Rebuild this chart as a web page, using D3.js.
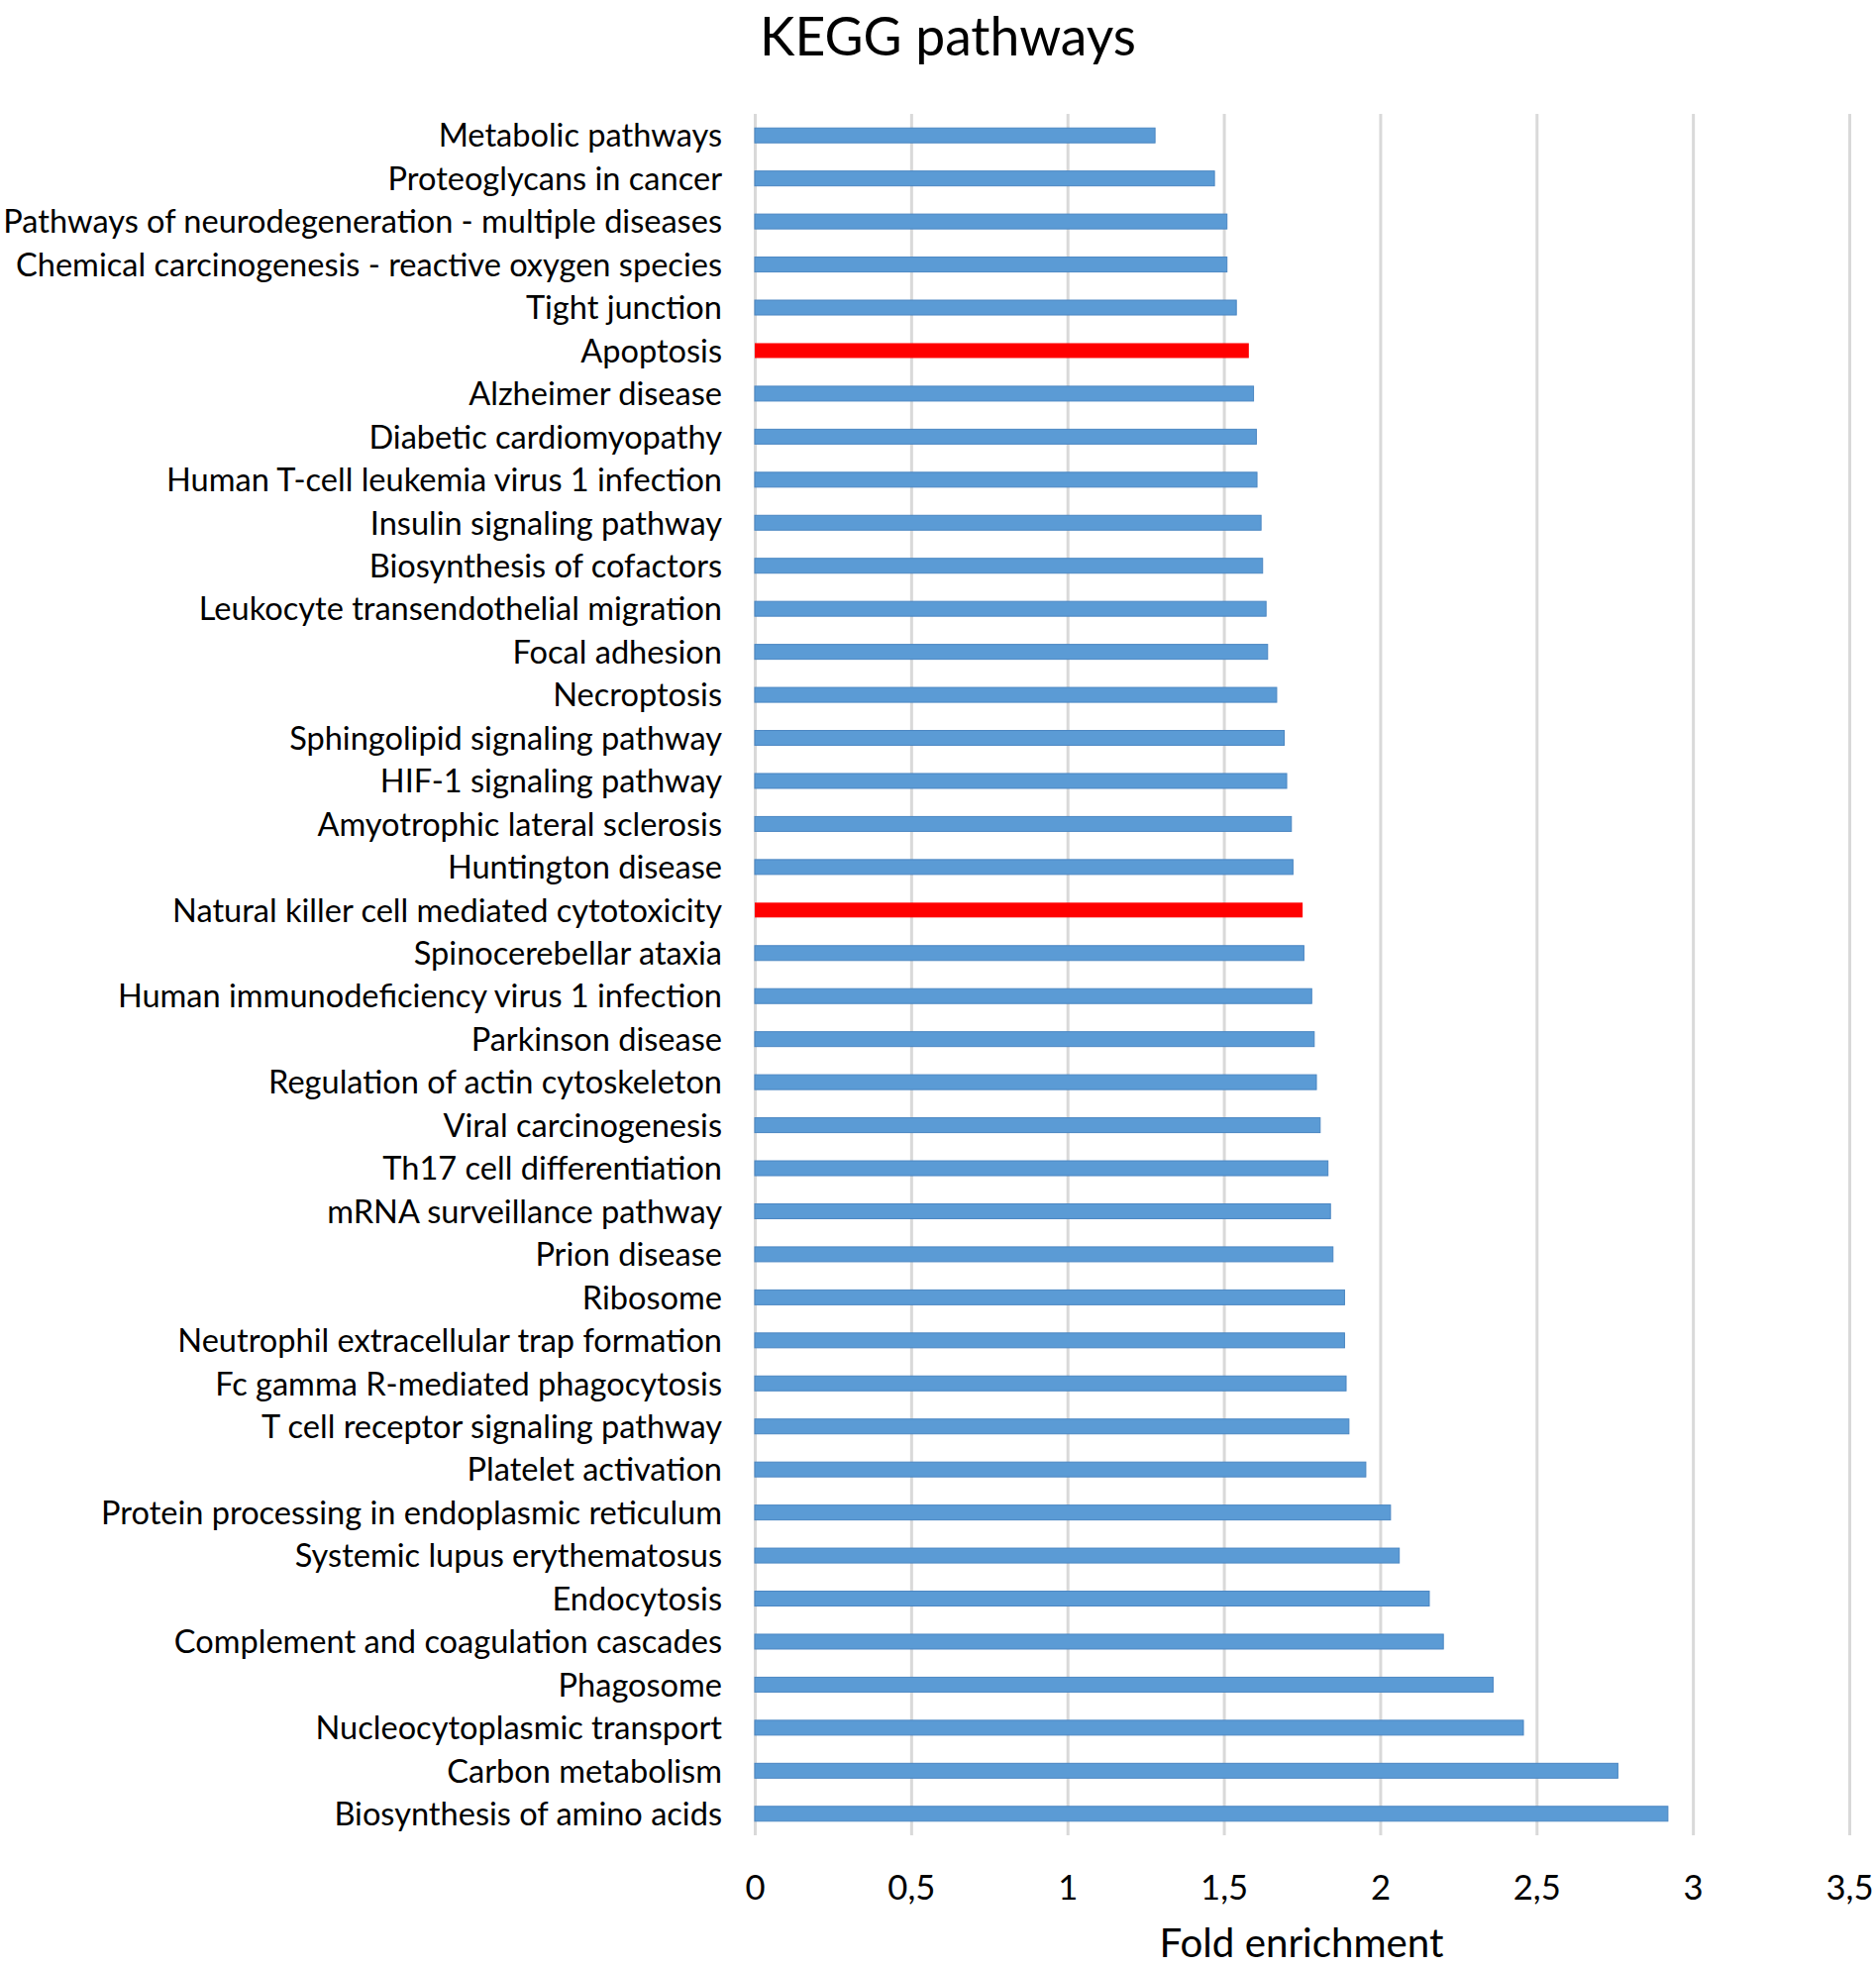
<!DOCTYPE html>
<html>
<head>
<meta charset="utf-8">
<script src="https://cdn.jsdelivr.net/npm/d3@7"></script>
<style>
  body { margin: 0; background: #fff; }
  svg text { font-family: Lato, "Open Sans", sans-serif; fill: #000; }
</style>
</head>
<body>
<svg id="chart" width="1894" height="1986"></svg>
<script>
// KEGG pathways, top to bottom as in the figure
const pathways = [
  "Metabolic pathways",
  "Proteoglycans in cancer",
  "Pathways of neurodegeneration - multiple diseases",
  "Chemical carcinogenesis - reactive oxygen species",
  "Tight junction",
  "Apoptosis",
  "Alzheimer disease",
  "Diabetic cardiomyopathy",
  "Human T-cell leukemia virus 1 infection",
  "Insulin signaling pathway",
  "Biosynthesis of cofactors",
  "Leukocyte transendothelial migration",
  "Focal adhesion",
  "Necroptosis",
  "Sphingolipid signaling pathway",
  "HIF-1 signaling pathway",
  "Amyotrophic lateral sclerosis",
  "Huntington disease",
  "Natural killer cell mediated cytotoxicity",
  "Spinocerebellar ataxia",
  "Human immunodeficiency virus 1 infection",
  "Parkinson disease",
  "Regulation of actin cytoskeleton",
  "Viral carcinogenesis",
  "Th17 cell differentiation",
  "mRNA surveillance pathway",
  "Prion disease",
  "Ribosome",
  "Neutrophil extracellular trap formation",
  "Fc gamma R-mediated phagocytosis",
  "T cell receptor signaling pathway",
  "Platelet activation",
  "Protein processing in endoplasmic reticulum",
  "Systemic lupus erythematosus",
  "Endocytosis",
  "Complement and coagulation cascades",
  "Phagosome",
  "Nucleocytoplasmic transport",
  "Carbon metabolism",
  "Biosynthesis of amino acids"
];

const foldEnrichment = [
  1.28, 1.47, 1.51, 1.51, 1.54, 1.58, 1.595, 1.604, 1.606, 1.619,
  1.624, 1.635, 1.64, 1.669, 1.693, 1.701, 1.716, 1.721, 1.752, 1.756,
  1.781, 1.789, 1.796, 1.808, 1.833, 1.841, 1.849, 1.886, 1.886, 1.891,
  1.90, 1.954, 2.033, 2.061, 2.157, 2.202, 2.361, 2.458, 2.76, 2.92
];

// pathways drawn in red
const highlighted = ["Apoptosis", "Natural killer cell mediated cytotoxicity"];

const xTicks = [0, 0.5, 1, 1.5, 2, 2.5, 3, 3.5];

const data = pathways.map((p, i) => ({ name: p, value: foldEnrichment[i] }));

const svg = d3.select("#chart");

const plotTop = 115, plotBottom = 1853;

const x = d3.scaleLinear().domain([0, 3.5]).range([762, 1867]);
const y = d3.scaleBand().domain(pathways).range([plotTop, plotBottom]);
const barH = 15;

const fmt = d => String(d).replace(".", ",");

// fit font size so the widest text of the selection spans the target width
function fitWidth(sel, target, startSize) {
  sel.attr("font-size", startSize);
  let w = d3.max(sel.nodes(), n => n.getComputedTextLength());
  sel.attr("font-size", startSize * target / w);
}

// vertical gridlines + tick labels
const xAxis = svg.append("g")
  .attr("transform", `translate(0,${plotBottom})`)
  .call(d3.axisBottom(x).tickValues(xTicks).tickFormat(fmt)
    .tickSize(-(plotBottom - plotTop)));

xAxis.select(".domain").remove();
xAxis.selectAll(".tick line")
  .attr("stroke", "#d9d9d9")
  .attr("stroke-width", 3);
xAxis.selectAll(".tick text")
  .attr("y", 65)
  .attr("dy", 0);
// size from the width of "0,5" in the reference
fitWidth(xAxis.selectAll(".tick text").filter(d => d === 0.5), 48, 36);
xAxis.selectAll(".tick text")
  .attr("font-size", xAxis.selectAll(".tick text").filter(d => d === 0.5).attr("font-size"));

// bars
svg.append("g")
  .selectAll("rect")
  .data(data)
  .join("rect")
    .attr("x", x(0))
    .attr("y", d => y(d.name) + y.bandwidth() / 2 - barH / 2)
    .attr("width", d => x(d.value) - x(0))
    .attr("height", barH)
    .attr("fill", d => highlighted.includes(d.name) ? "#ff0000" : "#5b9bd5")
    .attr("stroke", d => highlighted.includes(d.name) ? "none" : "#4a86c2")
    .attr("stroke-width", 1);

// category labels
const yAxis = svg.append("g")
  .attr("transform", `translate(${x(0)},0)`)
  .call(d3.axisLeft(y).tickSize(0).tickPadding(33));
yAxis.select(".domain").remove();
yAxis.selectAll(".tick text").attr("dy", "0.36em");
fitWidth(yAxis.selectAll(".tick text"), 726, 35);

// title
const title = svg.append("text")
  .attr("x", 957)
  .attr("y", 56)
  .attr("text-anchor", "middle")
  .text("KEGG pathways");
fitWidth(title, 380, 60);

// x axis title
const xTitle = svg.append("text")
  .attr("x", 1314)
  .attr("y", 1976)
  .attr("text-anchor", "middle")
  .text("Fold enrichment");
fitWidth(xTitle, 287, 42);
</script>
</body>
</html>
